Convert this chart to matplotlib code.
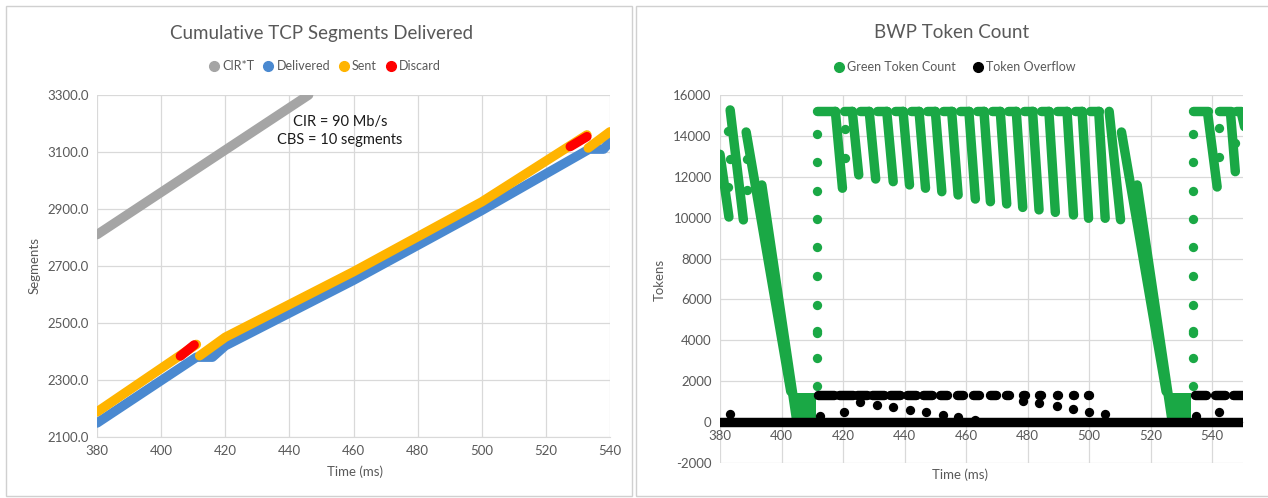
import numpy as np
import matplotlib.pyplot as plt
from matplotlib.patches import Rectangle
from matplotlib.lines import Line2D

plt.rcParams['font.family'] = ['Lato', 'DejaVu Sans']
plt.rcParams['axes.unicode_minus'] = False

GRAY_TXT = "#595959"
GRID = "#d9d9d9"
C_CIR = "#a5a5a5"
C_DEL = "#4a89d0"
C_SENT = "#ffb400"
C_DISC = "#ff0000"
C_GREEN = "#1aa845"
C_BLACK = "#000000"
LW = 6.8  # thick lines stand in for the dense excel markers

# ---------------- left chart: cumulative segments ----------------
cir_time = [380, 446]
cir_seg = [2810, 3300]

sent_time_a = [380, 411]
sent_seg_a = [2188, 2425]
sent_time_b = [412, 420, 460, 500, 532.8]
sent_seg_b = [2385, 2450, 2680, 2925, 3160]
sent_time_c = [533.2, 540]
sent_seg_c = [3114, 3171]

deliv_time = [380, 411, 416, 420, 460, 500, 533.5, 538, 540]
deliv_seg = [2149, 2380, 2380, 2420, 2650, 2895, 3110, 3110, 3136]

disc_time_a = [406, 410.3]
disc_seg_a = [2384, 2423]
disc_time_b = [527.6, 532.8]
disc_seg_b = [3119, 3154]

# ---------------- right chart: token count ----------------
TOP = 15200
# sawtooth teeth between the two drain phases
tooth_top_x = [417.5, 423.0, 428.5, 434.2, 439.5, 444.7, 450.0, 455.3, 460.9,
               465.8, 471.1, 476.3, 481.6, 486.9, 492.8, 497.7, 503.1]
tooth_bot_x = [419.8, 425.1, 430.6, 436.3, 441.6, 446.8, 452.1, 457.4, 463.0,
               467.9, 473.2, 478.4, 483.7, 489.0, 494.9, 499.8, 505.2]
tooth_bot_val = [11440, 12090, 11890, 11760, 11600, 11440, 11270, 11110, 10910,
                 10780, 10670, 10500, 10380, 10260, 10130, 9970, 9970]
bar_start_x = [411.6, 420.3, 425.6, 431.1, 436.8, 442.1, 447.3, 452.6, 457.9,
               463.5, 468.4, 473.7, 478.9, 484.2, 489.5, 495.4, 500.3]

# teeth at the start of the window and around the right edge
edge_top_x = [380.0, 383.3, 506.5, 538.6, 546.0, 549.5]
edge_top_val = [13100, 15270, 15200, 15000, 15000, 15100]
edge_bot_x = [382.9, 387.6, 510.2, 541.6, 547.5, 550.5]
edge_bot_val = [10030, 9890, 9900, 11500, 12250, 14450]
edge_bar_start = [533.8, 542.3, 547.8]
edge_bar_end = [538.6, 546.0, 549.5]

# drain bands (two overlapping tooth lines each)
drain_top_x = [388.5, 393.6, 510.5, 515.6]
drain_top_val = [14190, 11600, 14190, 11600]
drain_bot_x = [403.0, 405.0, 525.0, 527.0]
drain_bot_val = [1500, 0, 1500, 0]

# low token clusters after a drain
block_x0 = [405.0, 527.0]
block_x1 = [411.2, 533.2]
block_lo = -200
block_hi = 1400

# refill dots (vertical dotted columns and mid-tooth jumps)
refill_col_x = [411.6, 533.8]
refill_vals = [1750, 3150, 4350, 4450, 5750, 7150, 8550, 9950, 11300, 12700, 14100]
mid_dot_x = [382.5, 383.3, 382.7, 388.7, 388.7, 420.5, 420.5, 542.1, 542.1, 547.5]
mid_dot_val = [11490, 12870, 14255, 12850, 11350, 14340, 12900, 14370, 12960, 13630]

# token overflow
ovf_base_x = [380, 551]
ovf_cl_start = [411.9, 418.6, 424.6, 429.5, 435.3, 440.7, 445.9, 451.6, 456.9,
                462.2, 467.8, 473.0, 478.4, 483.7, 489.5, 494.6, 499.7, 534.5, 541.0, 546.8]
ovf_cl_end = [416.9, 423.3, 427.9, 433.2, 438.4, 443.6, 448.9, 453.9, 459.1,
              464.2, 469.8, 474.0, 479.0, 484.2, 489.9, 495.0, 500.1, 538.0, 544.2, 550.3]
OVF_HI = 1330
ovf_dot_x = [383.3, 412.5, 420.3, 425.5, 431.0, 436.2, 441.9, 446.9, 452.4, 457.5, 463.0,
             478.6, 483.8, 489.7, 494.7, 499.8, 505.2, 534.7, 542.2]
ovf_dot_val = [400, 300, 500, 1000, 860, 760, 590, 480, 360, 240, 100,
               1050, 950, 790, 630, 510, 390, 290, 480]


def style_axis(ax):
    ax.set_facecolor("white")
    for s in ax.spines.values():
        s.set_visible(False)
    ax.grid(True, color=GRID, linewidth=0.9)
    ax.set_axisbelow(True)
    ax.tick_params(length=0, colors=GRAY_TXT, labelsize=9.5, pad=6)


def thick(ax, x, y, color, z=3):
    ax.plot(x, y, color=color, lw=LW, solid_capstyle="round", solid_joinstyle="round", zorder=z)


fig = plt.figure(figsize=(12.68, 4.98), dpi=100)
fig.patch.set_facecolor("white")

# panel frames
fig.add_artist(Rectangle((6 / 1268, 2 / 498), 626 / 1268, 490 / 498, transform=fig.transFigure,
                         fill=False, edgecolor="#d0d0d0", lw=1.0))
fig.add_artist(Rectangle((636 / 1268, 2 / 498), 660 / 1268, 490 / 498, transform=fig.transFigure,
                         fill=False, edgecolor="#d0d0d0", lw=1.0))

# ---- left axes
ax1 = fig.add_axes([97 / 1268, 1 - 437 / 498, 513 / 1268, 342 / 498])
style_axis(ax1)
thick(ax1, cir_time, cir_seg, C_CIR)
thick(ax1, deliv_time, deliv_seg, C_DEL)
thick(ax1, sent_time_a, sent_seg_a, C_SENT, 4)
thick(ax1, sent_time_b, sent_seg_b, C_SENT, 4)
thick(ax1, sent_time_c, sent_seg_c, C_SENT, 4)
thick(ax1, disc_time_a, disc_seg_a, C_DISC, 5)
thick(ax1, disc_time_b, disc_seg_b, C_DISC, 5)
ax1.set_xlim(380, 540)
ax1.set_ylim(2100, 3300)
ax1.set_xticks(np.arange(380, 541, 20))
ax1.set_yticks(np.arange(2100, 3301, 200))
ax1.set_yticklabels([f"{v:.1f}" for v in np.arange(2100, 3301, 200)])
ax1.spines["bottom"].set_visible(True)
ax1.spines["bottom"].set_color(GRID)
fig.text(340 / 1268, 1 - 131 / 498, "CIR = 90 Mb/s\nCBS = 10 segments",
         ha="center", va="center", fontsize=10.5, color="#1a1a1a", linespacing=1.35)

fig.text(322 / 1268, 1 - 33 / 498, "Cumulative TCP Segments Delivered", ha="center", va="center",
         fontsize=13.5, color=GRAY_TXT)
fig.text(35 / 1268, 1 - 266 / 498, "Segments", rotation=90, ha="center", va="center",
         fontsize=9.5, color=GRAY_TXT)
fig.text(355 / 1268, 1 - 472 / 498, "Time (ms)", ha="center", va="center",
         fontsize=9.5, color=GRAY_TXT)

h1 = [Line2D([], [], ls="", marker="o", ms=7, color=c) for c in (C_CIR, C_DEL, C_SENT, C_DISC)]
fig.legend(h1, ["CIR*T", "Delivered", "Sent", "Discard"], loc="center",
           bbox_to_anchor=(325 / 1268, 1 - 66 / 498), ncol=4, frameon=False, fontsize=9,
           handletextpad=0.25, columnspacing=0.7, labelcolor=GRAY_TXT, handlelength=0.8)

# ---- right axes
ax2 = fig.add_axes([720 / 1268, 1 - 463 / 498, 523 / 1268, 368 / 498])
style_axis(ax2)
for x0, x1 in zip(bar_start_x, tooth_top_x):
    thick(ax2, [x0, x1], [TOP, TOP], C_GREEN)
for xt, xb, vb in zip(tooth_top_x, tooth_bot_x, tooth_bot_val):
    thick(ax2, [xt, xb], [TOP, vb], C_GREEN)
for xt, vt, xb, vb in zip(edge_top_x, edge_top_val, edge_bot_x, edge_bot_val):
    thick(ax2, [xt, xb], [vt, vb], C_GREEN)
for x0, x1 in zip(edge_bar_start, edge_bar_end):
    thick(ax2, [x0, x1], [TOP, TOP], C_GREEN)
for xt, vt, xb, vb in zip(drain_top_x, drain_top_val, drain_bot_x, drain_bot_val):
    thick(ax2, [xt, xb], [vt, vb], C_GREEN)
for x0, x1 in zip(block_x0, block_x1):
    ax2.fill_between([x0, x1], block_lo, block_hi, color=C_GREEN, lw=0, zorder=3)
for xc in refill_col_x:
    ax2.scatter([xc] * len(refill_vals), refill_vals, s=45, color=C_GREEN, lw=0, zorder=3)
ax2.scatter(mid_dot_x, mid_dot_val, s=45, color=C_GREEN, lw=0, zorder=3)

thick(ax2, ovf_base_x, [0, 0], C_BLACK, 6)
for x0, x1 in zip(ovf_cl_start, ovf_cl_end):
    thick(ax2, [x0, x1], [OVF_HI, OVF_HI], C_BLACK, 6)
ax2.scatter(ovf_dot_x, ovf_dot_val, s=45, color=C_BLACK, lw=0, zorder=6)

ax2.set_xlim(380, 550)
ax2.set_ylim(-2000, 16000)
ax2.set_xticks(np.arange(380, 541, 20))
ax2.set_yticks(np.arange(-2000, 16001, 2000))
ax2.spines["bottom"].set_position(("data", 0))
ax2.spines["bottom"].set_visible(True)
ax2.spines["bottom"].set_color(GRID)

fig.text(952 / 1268, 1 - 33 / 498, "BWP Token Count", ha="center", va="center",
         fontsize=13.5, color=GRAY_TXT)
fig.text(660 / 1268, 1 - 280 / 498, "Tokens", rotation=90, ha="center", va="center",
         fontsize=9.5, color=GRAY_TXT)
fig.text(960 / 1268, 1 - 475 / 498, "Time (ms)", ha="center", va="center",
         fontsize=9.5, color=GRAY_TXT)

h2 = [Line2D([], [], ls="", marker="o", ms=7, color=c) for c in (C_GREEN, C_BLACK)]
fig.legend(h2, ["Green Token Count", "Token Overflow"], loc="center",
           bbox_to_anchor=(955 / 1268, 1 - 67 / 498), ncol=2, frameon=False, fontsize=9,
           handletextpad=0.25, columnspacing=1.4, labelcolor=GRAY_TXT, handlelength=0.8)

fig.savefig("out.png", dpi=100, facecolor="white")
